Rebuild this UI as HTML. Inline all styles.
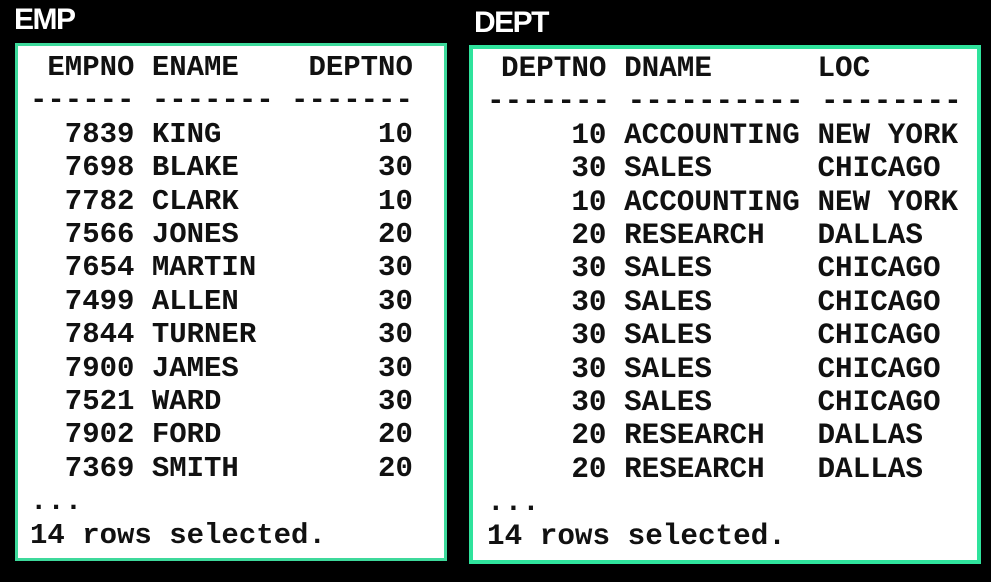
<!DOCTYPE html>
<html><head><meta charset="utf-8"><style>
html,body{margin:0;padding:0;background:#000;width:991px;height:582px;overflow:hidden;position:relative}
.title{position:absolute;color:#fff;font-family:"Liberation Sans",sans-serif;font-weight:bold;font-size:30px;letter-spacing:-1.5px}
.box{position:absolute;background:#fff;box-sizing:border-box}
pre{position:absolute;margin:0;font-family:"Liberation Mono",monospace;font-weight:bold;color:#111;line-height:33.4px}
.ind{display:inline-block;padding-left:14px}
</style></head><body>
<div class="title" style="left:14px;top:3px">EMP</div>
<div class="title" style="left:474px;top:6px">DEPT</div>
<div class="box" style="left:15px;top:43px;width:432px;height:518px;border:3px solid #3dd99b"></div>
<div class="box" style="left:469px;top:45px;width:512px;height:519px;border:4px solid #2fe39c"></div>
<pre id="emp" style="left:30px;top:51px;font-size:29px"></pre>
<pre id="dept" style="left:487px;top:52px;font-size:29.3px"></pre>
<script>
const empNo=["7839","7698","7782","7566","7654","7499","7844","7900","7521","7902","7369"];
const empName=["KING","BLAKE","CLARK","JONES","MARTIN","ALLEN","TURNER","JAMES","WARD","FORD","SMITH"];
const empDept=["10","30","10","20","30","30","30","30","30","20","20"];
const dName=["ACCOUNTING","SALES","ACCOUNTING","RESEARCH","SALES","SALES","SALES","SALES","SALES","RESEARCH","RESEARCH"];
const dLoc=["NEW YORK","CHICAGO","NEW YORK","DALLAS","CHICAGO","CHICAGO","CHICAGO","CHICAGO","CHICAGO","DALLAS","DALLAS"];
let e=[" EMPNO ENAME    DEPTNO","------ ------- -------"];
for(let i=0;i<empNo.length;i++)e.push(empNo[i].padStart(6)+" "+empName[i].padEnd(7)+" "+empDept[i].padStart(7));
e.push("...","14 rows selected.");
document.getElementById('emp').textContent=e.join("\n");
const ind=s=>'<span class="ind">'+s+'</span>';
let d=[ind("DEPTNO DNAME      LOC"),"------- ---------- --------"];
for(let i=0;i<dName.length;i++)d.push(ind(empDept[i].padStart(6)+" "+dName[i].padEnd(10)+" "+dLoc[i]));
d.push("...","14 rows selected.");
document.getElementById('dept').innerHTML=d.join("\n");
</script>
</body></html>
